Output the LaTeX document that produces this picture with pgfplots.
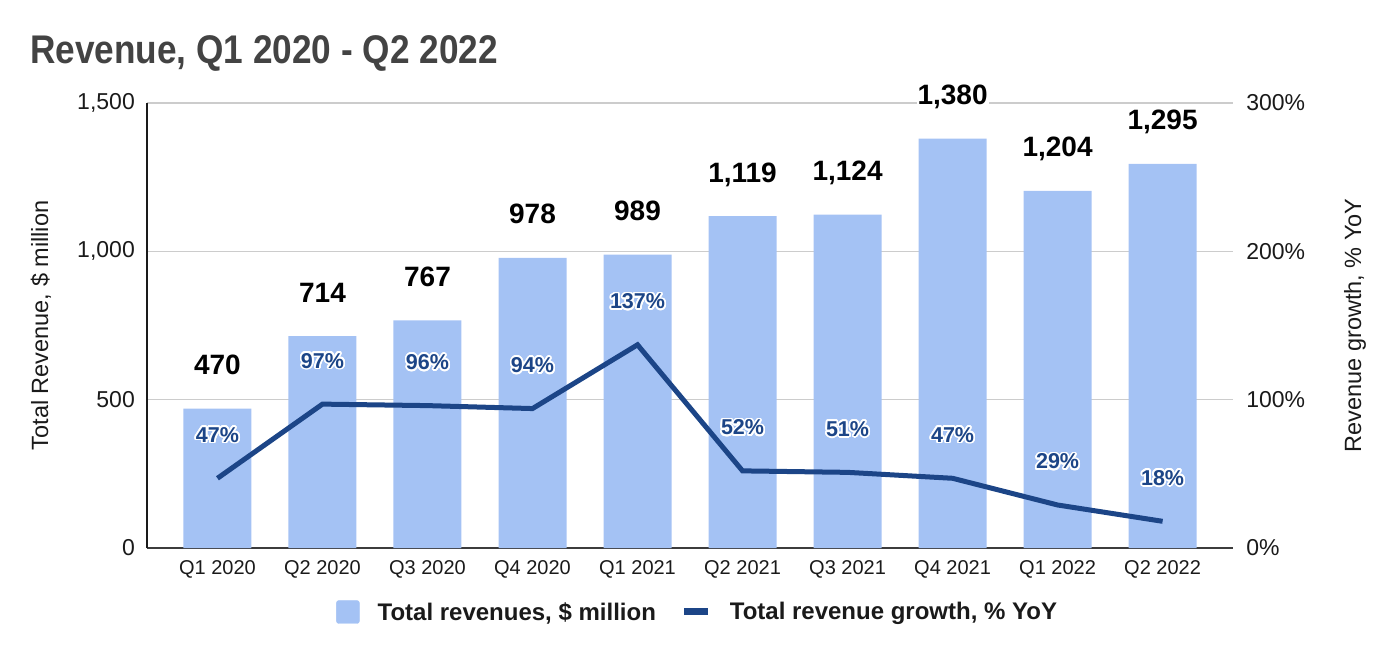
\documentclass[border=0pt]{standalone}
\usepackage{pgfplots}
\pgfplotsset{compat=1.18}
\usepackage{pgfplotstable}
\usepackage{fontspec}
\setmainfont{Liberation Sans}
\newfontfamily\titlefont[FakeStretch=0.88]{Liberation Sans}
\usepackage[copies]{contour}
\contourlength{1.7bp}
\contournumber{24}
\definecolor{barcol}{HTML}{A4C2F4}
\definecolor{linecol}{HTML}{1C4587}
\definecolor{titlegray}{HTML}{434343}
\definecolor{gridgray}{HTML}{CCCCCC}
\definecolor{txt}{HTML}{1A1A1A}
\newcommand\tickfont{\fontsize{23bp}{27bp}\selectfont}
\newcommand\xtickfont{\fontsize{20bp}{24bp}\selectfont}
\newcommand\labfont{\fontsize{23.5bp}{28bp}\selectfont}
\newcommand\barlabfont{\fontsize{28bp}{32bp}\selectfont\bfseries}
\newcommand\pctfont{\fontsize{21.5bp}{25bp}\selectfont\bfseries}
\newcommand\legfont{\fontsize{24bp}{28bp}\selectfont\bfseries}
\newcommand\ttlfont{\titlefont\fontsize{40bp}{46bp}\selectfont\bfseries}

\pgfplotstableread{
idx rev growth
0 470 47
1 714 97
2 767 96
3 978 94
4 989 137
5 1119 52
6 1124 51
7 1380 47
8 1204 29
9 1295 18
}\datatable

\begin{document}
\begin{tikzpicture}
\path[use as bounding box] (0bp,0bp) rectangle (1400bp,-658bp);
\node[anchor=base west, font=\ttlfont, text=titlegray, inner sep=0pt] at (30bp,-63bp) {Revenue, Q1 2020 - Q2 2022};

\begin{axis}[
  at={(147bp,-548bp)}, anchor=south west,
  width=1086bp, height=445bp, scale only axis,
  xmin=-0.671, xmax=9.671, ymin=0, ymax=1500,
  ybar, bar width=68bp,
  axis x line*=bottom, axis y line*=left,
  x axis line style={draw=txt!85, line width=2bp, -},
  y axis line style={draw=txt, line width=1.2bp, -},
  major tick length=0,
  xtick=data,
  xticklabels={Q1 2020,Q2 2020,Q3 2020,Q4 2020,Q1 2021,Q2 2021,Q3 2021,Q4 2021,Q1 2022,Q2 2022},
  ytick={0,500,1000,1500},
  ymajorgrids, grid style={gridgray, line width=1.3bp},
  /pgf/number format/assume math mode=true,
  /pgf/number format/1000 sep={,},
  yticklabel style={anchor=east, inner sep=0pt, xshift=-12bp, font=\tickfont, text=txt},
  xticklabel style={anchor=north, inner sep=0pt, yshift=-12bp, font=\xtickfont, text=txt},
  ylabel={Total Revenue, \$ million},
  ylabel style={at={([xshift=-106bp]axis description cs:0,0.5)}, anchor=center, font=\labfont, text=txt},
  nodes near coords,
  every node near coord/.append style={anchor=base, yshift=34bp, font=\barlabfont, text=black, fill=white, inner sep=1bp},
]
\addplot[fill=barcol, draw=none] table[x=idx,y=rev]{\datatable};
\end{axis}

\begin{axis}[
  at={(147bp,-548bp)}, anchor=south west,
  width=1086bp, height=445bp, scale only axis,
  xmin=-0.671, xmax=9.671, ymin=0, ymax=300,
  axis x line=none, axis y line*=right,
  y axis line style={draw=none},
  major tick length=0,
  ytick={0,100,200,300},
  /pgf/number format/assume math mode=true,
  yticklabel={\pgfmathprintnumber{\tick}\%},
  yticklabel style={anchor=west, inner sep=0pt, xshift=13bp, font=\tickfont, text=txt},
  ylabel={Revenue growth, \% YoY},
  ylabel style={at={([xshift=122bp]axis description cs:1,0.5)}, anchor=center, font=\labfont, text=txt},
  legend style={at={(0.507,-0.1438)}, anchor=center, legend columns=2, draw=none, fill=none,
    font=\legfont, text=txt,
    /tikz/every even column/.append style={column sep=23bp},
    /tikz/every odd column/.append style={column sep=16bp}},
]
\addlegendimage{legend image code/.code={\fill[barcol, rounded corners=2.5bp] (0bp,-11.5bp) rectangle (23bp,11.5bp);}}
\addlegendentry{Total revenues, \$ million}
\addlegendimage{legend image code/.code={\draw[linecol, line width=7bp] (0bp,0bp) -- (24bp,0bp);}}
\addlegendentry{Total revenue growth, \% YoY}
\addplot[forget plot, linecol, line width=5bp, mark=none, point meta=y,
  nodes near coords={\contour{white}{\pgfmathprintnumber{\pgfplotspointmeta}\%}},
  every node near coord/.append style={anchor=base, yshift=36bp, font=\pctfont, text=linecol}]
  table[x=idx,y=growth]{\datatable};
\end{axis}
\end{tikzpicture}
\end{document}
